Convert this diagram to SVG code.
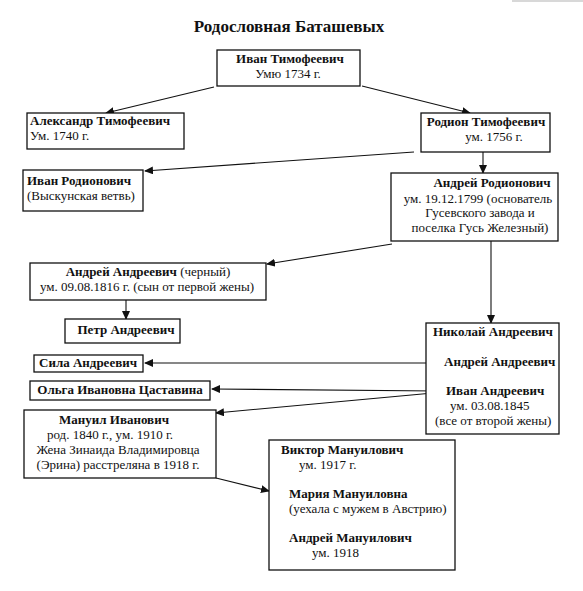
<svg xmlns="http://www.w3.org/2000/svg" width="583" height="591" viewBox="0 0 583 591">
<style>
text{font-family:"Liberation Serif","Times New Roman",serif;font-size:13px;fill:#111}
.b{font-weight:bold}
.c{text-anchor:middle}
.box{fill:#fff;stroke:#111;stroke-width:1.3}
.ln{fill:none;stroke:#111;stroke-width:1.1}
</style>
<defs>
<marker id="ah" markerWidth="9" markerHeight="8" refX="8" refY="4" orient="auto" markerUnits="userSpaceOnUse">
<path d="M0,0 L9,4 L0,8 Z" fill="#111"/>
</marker>
</defs>
<rect width="583" height="591" fill="#fff"/>
<rect x="512" y="0" width="71" height="2" fill="#d8d8d8"/>
<text x="289" y="32" class="b c" style="font-size:17px">Родословная Баташевых</text>

<g id="connectors">
<line class="ln" x1="214" y1="87" x2="106" y2="113" marker-end="url(#ah)"/>
<line class="ln" x1="362" y1="86" x2="470" y2="113" marker-end="url(#ah)"/>
<line class="ln" x1="414" y1="152" x2="145" y2="171" marker-end="url(#ah)"/>
<line class="ln" x1="483" y1="152" x2="483" y2="173" marker-end="url(#ah)"/>
<line class="ln" x1="392" y1="244" x2="267" y2="264" marker-end="url(#ah)"/>
<line class="ln" x1="126" y1="300" x2="126" y2="319" marker-end="url(#ah)"/>
<line class="ln" x1="491" y1="241" x2="491" y2="323" marker-end="url(#ah)"/>
<line class="ln" x1="440" y1="363" x2="145" y2="363" marker-end="url(#ah)"/>
<line class="ln" x1="437" y1="391" x2="212" y2="389" marker-end="url(#ah)"/>
<line class="ln" x1="433" y1="393" x2="216" y2="413" marker-end="url(#ah)"/>
<line class="ln" x1="216" y1="478" x2="269" y2="491" marker-end="url(#ah)"/>
</g>

<g id="ivan-timofeevich">
<rect class="box" x="217" y="50" width="143" height="36"/>
<text x="290" y="63" class="b c">Иван Тимофеевич</text>
<text x="288" y="78" class="c">Умю 1734 г.</text>
</g>

<g id="aleksandr-timofeevich">
<rect class="box" x="27" y="113" width="157" height="36"/>
<text x="30" y="125" class="b">Александр Тимофеевич</text>
<text x="30" y="140">Ум. 1740 г.</text>
</g>

<g id="rodion-timofeevich">
<rect class="box" x="421" y="113" width="129" height="39"/>
<text x="486" y="126" class="b c">Родион Тимофеевич</text>
<text x="494" y="141" class="c">ум. 1756 г.</text>
</g>

<g id="ivan-rodionovich">
<rect class="box" x="23" y="170" width="120" height="41"/>
<text x="27" y="185" class="b">Иван Родионович</text>
<text x="27" y="200">(Выскунская ветвь)</text>
</g>

<g id="andrei-rodionovich">
<rect class="box" x="391" y="173" width="167" height="68"/>
<text x="492" y="187" class="b c">Андрей Родионович</text>
<text x="478" y="203" class="c">ум. 19.12.1799 (основатель</text>
<text x="480" y="217" class="c">Гусевского завода и</text>
<text x="480" y="232" class="c">поселка Гусь Железный)</text>
</g>

<g id="andrei-andreevich-cherny">
<rect class="box" x="30" y="263" width="236" height="37"/>
<text x="148" y="276" class="c"><tspan class="b">Андрей Андреевич</tspan> (черный)</text>
<text x="147" y="291" class="c">ум. 09.08.1816 г. (сын от первой жены)</text>
</g>

<g id="petr-andreevich">
<rect class="box" x="65" y="319" width="115" height="24"/>
<text x="126" y="334" class="b c">Петр Андреевич</text>
</g>

<g id="nikolai-andreevich">
<rect class="box" x="426" y="323" width="133" height="111"/>
<text x="433" y="336" class="b">Николай Андреевич</text>
<text x="444" y="366" class="b">Андрей Андреевич</text>
<text x="446" y="395" class="b">Иван Андреевич</text>
<text x="450" y="410">ум. 03.08.1845</text>
<text x="435" y="425">(все от второй жены)</text>
</g>

<g id="sila-andreevich">
<rect class="box" x="34" y="355" width="109" height="17"/>
<text x="88" y="367" class="b c">Сила Андреевич</text>
</g>

<g id="olga-ivanovna">
<rect class="box" x="30" y="381" width="180" height="19"/>
<text x="120" y="394" class="b c">Ольга Ивановна Цаставина</text>
</g>

<g id="manuil-ivanovich">
<rect class="box" x="24" y="410" width="192" height="68"/>
<text x="114" y="424" class="b c">Мануил Иванович</text>
<text x="110" y="439" class="c">род. 1840 г., ум. 1910 г.</text>
<text x="118" y="454" class="c">Жена Зинаида Владимировца</text>
<text x="118" y="469" class="c">(Эрина) расстреляна в 1918 г.</text>
</g>

<g id="manuilovichi">
<rect class="box" x="269" y="440" width="186" height="130"/>
<text x="281" y="454" class="b">Виктор Мануилович</text>
<text x="299" y="469">ум. 1917 г.</text>
<text x="289" y="498" class="b">Мария Мануиловна</text>
<text x="289" y="513">(уехала с мужем в Австрию)</text>
<text x="289" y="542" class="b">Андрей Мануилович</text>
<text x="312" y="557">ум. 1918</text>
</g>
</svg>
